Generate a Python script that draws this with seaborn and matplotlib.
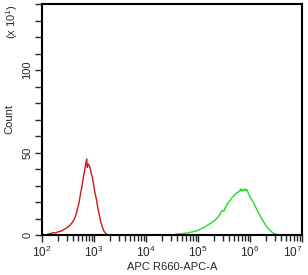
import numpy as np
import pandas as pd
import matplotlib
matplotlib.use("Agg")
import matplotlib.pyplot as plt
import matplotlib.ticker as mticker
import matplotlib.transforms as mtransforms
import seaborn as sns

# ---- data (log10 of APC intensity, count in units of x10^1) ----
red_log = [2.00, 2.005, 2.02, 2.06, 2.10, 2.14, 2.18, 2.22, 2.26, 2.30, 2.34, 2.38, 2.42, 2.46,
           2.50, 2.54, 2.58, 2.62, 2.66, 2.70, 2.72, 2.74, 2.76, 2.78, 2.80, 2.82, 2.84,
           2.86, 2.87, 2.89, 2.91, 2.93, 2.95, 2.97, 2.99, 3.01, 3.03, 3.05, 3.07, 3.09,
           3.11, 3.13, 3.15, 3.17, 3.19, 3.21, 3.23, 3.26, 3.30]
red_cnt = [6.0, 0.0, 0.0, 0.0, 0.3, 0.8, 1.0, 1.5, 1.2, 1.8, 2.2, 2.5, 3.3, 4.0,
           4.8, 6.0, 7.5, 9.5, 13.0, 18.0, 21.0, 25.0, 28.0, 32.0, 36.0, 39.0, 43.0,
           46.0, 41.0, 43.0, 42.0, 40.0, 37.0, 35.0, 31.0, 27.0, 24.0, 21.0, 17.0, 14.0,
           11.0, 8.0, 6.0, 4.0, 2.5, 1.5, 0.8, 0.2, 0.0]

green_log = [4.50, 4.56, 4.60, 4.64, 4.68, 4.72, 4.76, 4.80, 4.84, 4.88, 4.92, 4.96, 5.00,
             5.04, 5.08, 5.12, 5.16, 5.20, 5.24, 5.28, 5.32, 5.36, 5.40, 5.44, 5.47, 5.50,
             5.53, 5.56, 5.59, 5.62, 5.65, 5.68, 5.71, 5.74, 5.77, 5.80, 5.82, 5.84, 5.86,
             5.88, 5.90, 5.92, 5.94, 5.96, 5.98, 6.01, 6.04, 6.07, 6.10, 6.13, 6.16, 6.19,
             6.22, 6.25, 6.28, 6.31, 6.34, 6.37, 6.40, 6.43, 6.46, 6.49, 6.52, 6.55]
green_cnt = [0.0, 0.3, 0.6, 0.5, 0.9, 0.8, 1.2, 1.1, 1.6, 1.8, 2.1, 2.4, 2.8,
             3.5, 4.0, 4.6, 5.5, 6.3, 7.0, 8.0, 8.8, 10.0, 11.5, 13.5, 15.0, 14.5,
             17.0, 18.5, 20.0, 21.0, 22.5, 23.5, 24.5, 25.5, 26.0, 26.5, 28.0, 26.5, 27.5,
             26.8, 28.0, 27.0, 27.5, 26.0, 24.5, 22.5, 21.0, 19.5, 17.5, 15.5, 13.5, 12.0,
             10.0, 8.5, 7.0, 5.5, 4.3, 3.2, 2.3, 1.6, 1.0, 0.5, 0.2, 0.0]

xtick_exponents = [2, 3, 4, 5, 6, 7]
xlabel = "APC R660-APC-A"
ylabel = "Count"
yscale_note = r"(x 10$^{\mathdefault{1}}$)"
ytick_major = [0, 50, 100]

sns.set_style("ticks")
plt.rcParams["font.family"] = ["Liberation Sans", "DejaVu Sans"]
plt.rcParams["mathtext.fontset"] = "custom"
plt.rcParams["mathtext.rm"] = "Liberation Sans"

red = pd.DataFrame({"x": np.power(10.0, red_log), "y": red_cnt})
green = pd.DataFrame({"x": np.power(10.0, green_log), "y": green_cnt})

fig = plt.figure(figsize=(3.08, 2.75), dpi=100)
ax = fig.add_axes([42 / 308, 40 / 275, 260 / 308, 231 / 275])

sns.lineplot(data=red, x="x", y="y", ax=ax, color="#d01818", lw=1.0,
             sort=False, estimator=None)
sns.lineplot(data=green, x="x", y="y", ax=ax, color="#22dd22", lw=1.0,
             sort=False, estimator=None)

ax.set_xscale("log")
ax.set_xlim(1e2, 1e7)
ax.set_ylim(0, 140)

xticks = [10.0 ** e for e in xtick_exponents]
ax.xaxis.set_major_locator(mticker.FixedLocator(xticks))
ax.xaxis.set_major_formatter(mticker.NullFormatter())
ax.xaxis.set_minor_locator(mticker.LogLocator(base=10, subs=np.arange(2, 10), numticks=20))
ax.xaxis.set_minor_formatter(mticker.NullFormatter())
ax.yaxis.set_major_locator(mticker.FixedLocator(ytick_major))
ax.yaxis.set_minor_locator(mticker.MultipleLocator(10))

for s in ax.spines.values():
    s.set_linewidth(1.5)
    s.set_color("black")

ax.tick_params(axis="x", which="major", length=5, width=1, direction="out")
ax.tick_params(axis="x", which="minor", length=4, width=1, direction="out")
ax.tick_params(axis="y", which="major", length=5, width=1, labelsize=8, pad=2, direction="out")
ax.tick_params(axis="y", which="minor", length=5, width=1, direction="out")
for lab in ax.get_yticklabels():
    lab.set_rotation(90)
    lab.set_va("center")

# x tick labels as 10^n
trans = mtransforms.blended_transform_factory(ax.transData, ax.transAxes)
offset = mtransforms.ScaledTranslation(0, -7 / 72, fig.dpi_scale_trans)
for i, (xv, e) in enumerate(zip(xticks, xtick_exponents)):
    last = i == len(xticks) - 1
    ax.text(xv, 0, r"10$^{\mathdefault{%d}}$" % e, transform=trans + offset,
            ha="right" if last else "center", va="top", fontsize=8.5, clip_on=False)

ax.set_xlabel(xlabel, fontsize=8, va="top")
ax.xaxis.set_label_coords(0.5, -27 / 231)
ax.set_ylabel(ylabel, fontsize=8, labelpad=6)
fig.text(12 / 308, 1 - 22 / 275, yscale_note, rotation=90, fontsize=8,
         ha="center", va="center")

fig.savefig("out.png", dpi=100)
